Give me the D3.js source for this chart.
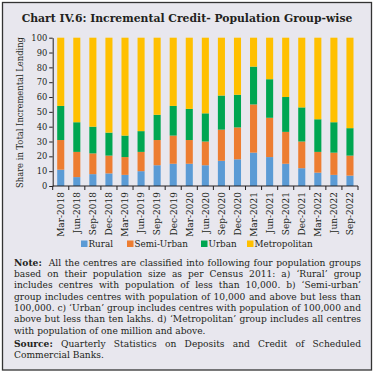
<!DOCTYPE html>
<html>
<head>
<meta charset="utf-8">
<script src="https://cdn.jsdelivr.net/npm/d3@7"></script>
<style>
  body { margin: 0; background: #fff; }
  svg { display: block; font-family: "DejaVu Serif", serif; fill: #231f20; }
  .axis path, .axis line { stroke: #231f20; }
  .axis text { font-family: "DejaVu Serif", serif; font-size: 8.3px; fill: #231f20; }
  .axis .lbl { font-size: 9px; }
</style>
</head>
<body>
<svg id="chart" width="374" height="375"></svg>
<script>
// Data (share in total incremental lending, %)
const quarters = ['Mar-2018', 'Jun-2018', 'Sep-2018', 'Dec-2018', 'Mar-2019', 'Jun-2019', 'Sep-2019',
  'Dec-2019', 'Mar-2020', 'Jun-2020', 'Sep-2020', 'Dec-2020', 'Mar-2021', 'Jun-2021', 'Sep-2021',
  'Dec-2021', 'Mar-2022', 'Jun-2022', 'Sep-2022'];
const rural = [11, 6, 8, 8.5, 7.5, 10, 14, 15, 15, 14, 17, 18, 22.5, 19.5, 15, 12, 9, 7.5, 7];
const semiUrban = [20, 17, 14, 12, 12, 13, 17, 19, 16, 16, 21, 21.5, 32.5, 26.5, 21.5, 18, 14, 15, 13.5];
const urban = [23, 20, 18, 15.5, 14.5, 14, 17, 20, 21, 19, 23, 22, 25.5, 26, 23.5, 23, 22, 20.5, 18.5];
const metropolitan = [46, 57, 60, 64, 66, 63, 52, 46, 48, 51, 39, 38.5, 19.5, 28, 40, 47, 55, 57, 61];
const groups = ['Rural', 'Semi-Urban', 'Urban', 'Metropolitan'];
const yTicks = [0, 10, 20, 30, 40, 50, 60, 70, 80, 90, 100];

const colors = ['#5b9bd5', '#ed7d31', '#00a651', '#ffc000'];

const svg = d3.select('#chart');

// Fit a text element's font size so it takes a given width
function fitWidth(sel, width, base) {
  sel.attr('font-size', base);
  const w = sel.node().getComputedTextLength();
  sel.attr('font-size', base * width / w);
}

// Frame
svg.append('rect')
    .attr('x', 2.5).attr('y', 2.5)
    .attr('width', 369).attr('height', 367.5)
    .attr('fill', '#e8e7ee')
    .attr('stroke', '#333')
    .attr('stroke-width', 1.3);

// Title
const title = svg.append('text')
    .attr('x', 187).attr('y', 22)
    .attr('text-anchor', 'middle')
    .attr('font-weight', 'bold')
    .text('Chart IV.6: Incremental Credit- Population Group-wise');
fitWidth(title, 331, 11);

const margin = {left: 52.7, top: 37.7};
const plotRight = 358;
const plotBottom = 186;

// Build stacked table
const table = quarters.map((q, i) => ({
  quarter: q,
  Rural: rural[i],
  'Semi-Urban': semiUrban[i],
  Urban: urban[i],
  Metropolitan: metropolitan[i]
}));
const series = d3.stack().keys(groups)(table);

const x = d3.scaleBand()
    .domain(quarters)
    .range([margin.left, plotRight])
    .paddingInner(0.56)
    .paddingOuter(0.28);

const y = d3.scaleLinear()
    .domain([0, 100])
    .range([plotBottom, margin.top]);

const color = d3.scaleOrdinal().domain(groups).range(colors);

// Bars
svg.append('g').selectAll('g')
    .data(series)
  .join('g')
    .attr('fill', d => color(d.key))
  .selectAll('rect')
    .data(d => d)
  .join('rect')
    .attr('x', d => x(d.data.quarter))
    .attr('width', x.bandwidth())
    .attr('y', d => y(d[1]))
    .attr('height', d => y(d[0]) - y(d[1]));

// Y axis
svg.append('g')
    .attr('class', 'axis')
    .attr('transform', `translate(${margin.left},0)`)
    .call(d3.axisLeft(y).tickValues(yTicks).tickSize(3.5).tickSizeOuter(0).tickPadding(2));

// X axis with ticks at band edges
const xAxisG = svg.append('g')
    .attr('class', 'axis')
    .attr('transform', `translate(0,${plotBottom})`);
xAxisG.append('line')
    .attr('x1', margin.left).attr('x2', plotRight);
const step = x.step();
xAxisG.selectAll('.edge')
    .data(d3.range(quarters.length + 1))
  .join('line')
    .attr('class', 'edge')
    .attr('x1', i => margin.left + i * step)
    .attr('x2', i => margin.left + i * step)
    .attr('y1', 0).attr('y2', 4);
xAxisG.selectAll('.lbl')
    .data(quarters)
  .join('text')
    .attr('class', 'lbl')
    .attr('transform', d => `translate(${x(d) + x.bandwidth() / 2 + 3.3},6) rotate(-90)`)
    .attr('text-anchor', 'end')
    .text(d => d);

// Y axis title
const yTitle = svg.append('text')
    .attr('transform', 'translate(22.5,112.5) rotate(-90)')
    .attr('text-anchor', 'middle')
    .text('Share in Total Incremental Lending');
fitWidth(yTitle, 151, 8.5);

// Legend
const legendX = [81, 127, 201, 247];
const legend = svg.append('g').selectAll('g')
    .data(groups)
  .join('g')
    .attr('transform', (d, i) => `translate(${legendX[i]},247)`);
legend.append('rect')
    .attr('y', -6.5).attr('width', 6.5).attr('height', 6.5)
    .attr('fill', d => color(d));
legend.append('text')
    .attr('x', 7.5).attr('y', 0)
    .attr('font-size', 8.8)
    .text(d => d);

// Note and source, justified lines
const noteLines = [
  {bold: 'Note:', text: '  All the centres are classified into following four population groups', justify: true},
  {text: 'based on their population size as per Census 2011: a) \u2018Rural\u2019 group', justify: true},
  {text: 'includes centres with population of less than 10,000. b) \u2018Semi-urban\u2019', justify: true},
  {text: 'group includes centres with population of 10,000 and above but less than', justify: true},
  {text: '100,000. c) \u2018Urban\u2019 group includes centres with population of 100,000 and', justify: true},
  {text: 'above but less than ten lakhs. d) \u2018Metropolitan\u2019 group includes all centres', justify: true},
  {text: 'with population of one million and above.', justify: false},
  {bold: 'Source:', text: ' Quarterly Statistics on Deposits and Credit of Scheduled', justify: true},
  {text: 'Commercial Banks.', justify: false}
];
const lineY = [265.5, 277, 288.3, 299.6, 311, 322.3, 333.6, 347, 358.4];
const textLeft = 14, textRight = 361;

const noteTexts = noteLines.map((ln, i) => {
  const t = svg.append('text')
      .attr('x', textLeft).attr('y', lineY[i])
      .attr('font-size', 10)
      .attr('xml:space', 'preserve');
  if (ln.bold) t.append('tspan').attr('font-weight', 'bold').text(ln.bold);
  t.append('tspan').text(ln.text);
  return t;
});

// One font size for the block: the densest justified line fits with plain spacing
const noteSize = Math.min(9.3, d3.min(noteLines.map((ln, i) => ln.justify
    ? 10 * (textRight - textLeft) / noteTexts[i].node().getComputedTextLength()
    : Infinity)));

noteTexts.forEach((t, i) => {
  const ln = noteLines[i];
  t.attr('font-size', noteSize);
  if (ln.justify) {
    const natural = t.node().getComputedTextLength();
    const full = (ln.bold || '') + ln.text;
    const spaces = (full.match(/ /g) || []).length;
    t.attr('word-spacing', (textRight - textLeft - natural) / spaces);
  }
});
</script>
</body>
</html>
